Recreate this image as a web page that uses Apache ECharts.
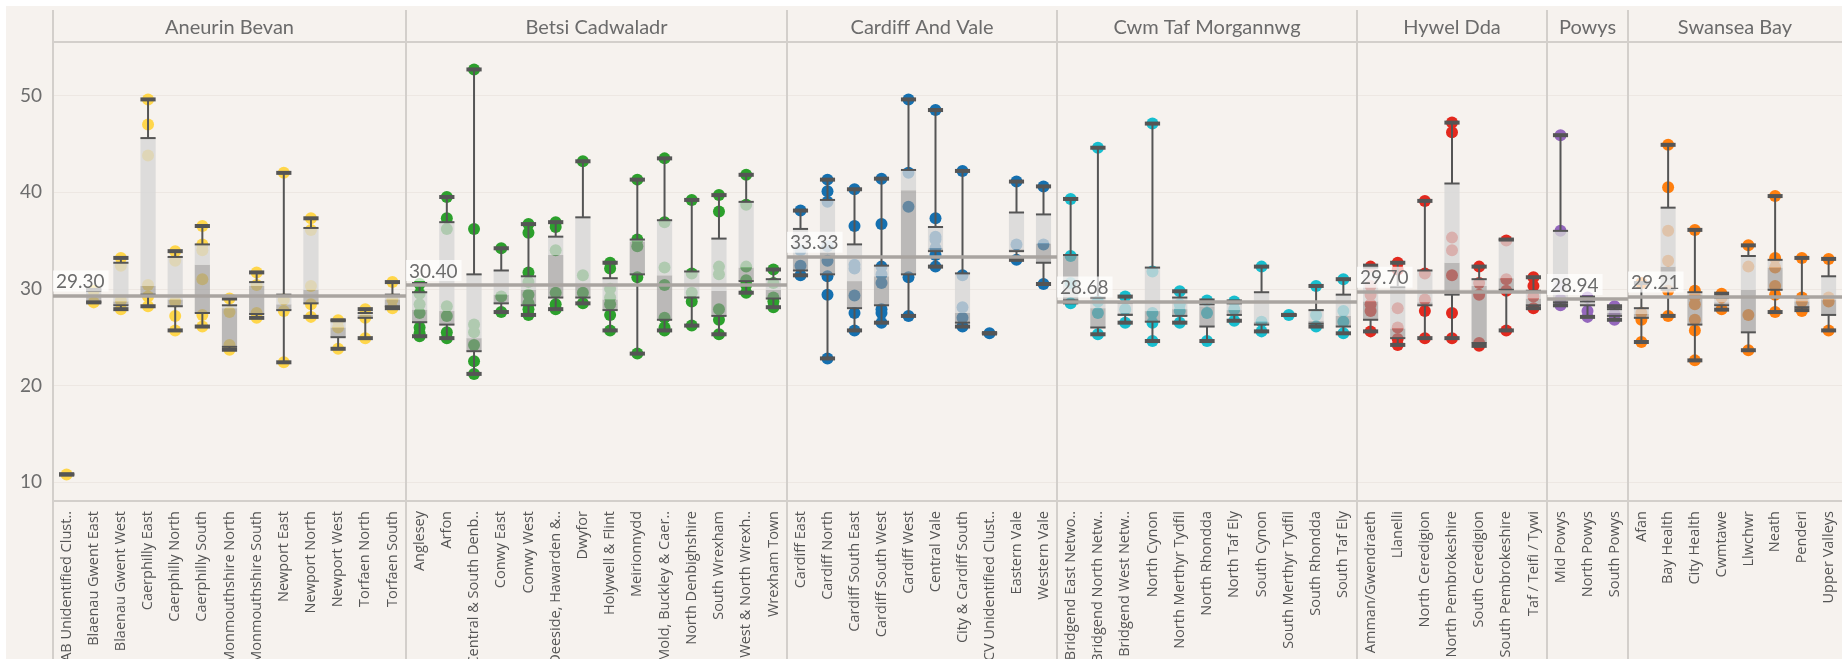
<!DOCTYPE html>
<html>
<head>
<meta charset="utf-8">
<script src="https://cdn.jsdelivr.net/npm/echarts@6/dist/echarts.min.js"></script>
<style>
  html, body { margin: 0; padding: 0; background: #fff; }
  #main { width: 1842px; height: 659px; }
</style>
</head>
<body>
<div id="main"></div>
<script>
// 各卫生局面板
const panelNames = ["Aneurin Bevan", "Betsi Cadwaladr", "Cardiff And Vale", "Cwm Taf Morgannwg", "Hywel Dda", "Powys", "Swansea Bay"];
const panelRefs = [29.30, 30.40, 33.33, 28.68, 29.70, 28.94, 29.21];
const yTicks = [10, 20, 30, 40, 50];

// box = [low, q1, median, q3, high]
const abCats = ["AB Unidentified Clust..", "Blaenau Gwent East", "Blaenau Gwent West", "Caerphilly East", "Caerphilly North", "Caerphilly South", "Monmouthshire North", "Monmouthshire South", "Newport East", "Newport North", "Newport West", "Torfaen North", "Torfaen South"];
const abDots = [[10.8], [29.8, 28.6], [33.2, 32.4, 28.8, 27.9], [49.6, 47.0, 43.8, 30.4, 29.2, 28.2], [33.9, 32.9, 28.7, 27.2, 25.7], [36.5, 34.6, 34.0, 31.0, 27.3, 26.1], [29.0, 27.6, 24.2, 23.7], [31.7, 30.4, 27.5, 27.0], [42.0, 28.9, 27.7, 22.4], [37.3, 36.1, 30.3, 28.4, 27.1], [26.75, 26.0, 23.8], [27.9, 27.0, 24.9], [30.7, 28.9, 28.0]];
const abBox = [[10.8, 10.8, 10.8, 10.8, 10.8], [28.6, 28.6, 29.2, 29.9, 29.9], [27.9, 28.3, 28.7, 32.7, 33.2], [28.2, 29.4, 30.3, 45.6, 49.6], [25.7, 28.2, 28.9, 33.3, 33.9], [26.1, 27.5, 32.5, 34.6, 36.5], [23.7, 24.0, 28.0, 28.3, 29.0], [27.0, 27.4, 30.3, 30.7, 31.7], [22.4, 27.8, 28.4, 29.4, 42.0], [27.1, 28.5, 29.9, 36.3, 37.3], [23.8, 25.0, 26.0, 26.75, 26.75], [24.9, 27.0, 27.3, 27.5, 27.9], [28.0, 28.2, 28.9, 29.4, 30.7]];

const bcCats = ["Anglesey", "Arfon", "Central & South Denb..", "Conwy East", "Conwy West", "Deeside, Hawarden &..", "Dwyfor", "Holywell & Flint", "Meirionnydd", "Mold, Buckley & Caer..", "North Denbighshire", "South Wrexham", "West & North Wrexh..", "Wrexham Town"];
const bcDots = [[30.5, 29.5, 28.4, 27.5, 26.0, 25.4, 25.1], [39.5, 37.3, 36.2, 28.2, 27.2, 25.5, 24.9], [52.7, 36.2, 26.3, 25.5, 24.2, 22.5, 21.2], [34.2, 29.2, 27.6], [36.7, 35.8, 31.7, 30.7, 29.4, 28.5, 27.9, 27.3], [36.9, 36.4, 34.0, 29.6, 28.4, 27.9], [43.2, 31.4, 29.6, 28.5], [32.7, 32.1, 30.0, 29.1, 28.4, 27.3, 25.7], [41.3, 35.1, 34.4, 31.2, 23.3], [43.5, 36.9, 32.2, 30.4, 27.0, 26.0, 25.7], [39.2, 31.6, 29.6, 28.7, 26.2], [39.7, 38.0, 32.3, 31.5, 27.9, 26.8, 25.3], [41.8, 38.7, 32.3, 30.9, 30.4, 29.6], [32.0, 30.6, 29.1, 28.7, 28.1]];
const bcBox = [[25.1, 26.55, 27.85, 29.65, 30.5], [24.9, 26.3, 27.7, 36.9, 39.5], [21.2, 23.55, 24.9, 31.5, 52.7], [27.6, 28.5, 29.4, 31.9, 34.2], [27.3, 28.3, 29.9, 31.3, 36.7], [27.9, 29.1, 33.5, 35.4, 36.9], [28.5, 29.1, 30.3, 37.4, 43.2], [25.7, 27.8, 28.9, 31.1, 32.7], [23.3, 31.5, 34.9, 35.1, 41.3], [25.7, 26.8, 31.4, 37.1, 43.5], [26.2, 29.1, 29.2, 31.8, 39.2], [25.3, 27.2, 29.8, 35.2, 39.7], [29.6, 30.8, 32.2, 39.0, 41.8], [28.1, 29.0, 29.9, 31.0, 32.0]];

const cvCats = ["Cardiff East", "Cardiff North", "Cardiff South East", "Cardiff South West", "Cardiff West", "Central Vale", "City & Cardiff South", "CV Unidentified Clust..", "Eastern Vale", "Western Vale"];
const cvDots = [[38.1, 34.0, 32.4, 31.4], [41.3, 40.1, 39.0, 34.4, 32.9, 31.3, 29.4, 22.8], [40.3, 36.5, 32.5, 32.1, 29.3, 27.5, 25.7], [41.4, 36.7, 32.3, 31.5, 30.6, 27.9, 27.5, 26.5], [49.6, 42.0, 38.5, 31.2, 27.2], [48.5, 37.3, 35.4, 35.1, 34.2, 33.5, 32.3], [42.2, 31.4, 28.1, 27.0, 26.1], [25.4], [41.1, 34.6, 33.0], [40.6, 34.6, 30.5]];
const cvBox = [[31.4, 31.9, 33.2, 36.2, 38.1], [22.8, 31.5, 34.4, 39.2, 41.3], [25.7, 28.0, 30.8, 34.6, 40.3], [26.5, 28.3, 31.3, 32.4, 41.4], [27.2, 31.5, 40.2, 42.3, 49.6], [32.3, 33.9, 34.2, 36.4, 48.5], [26.1, 26.5, 27.5, 31.6, 42.2], [25.4, 25.4, 25.4, 25.4, 25.4], [33.0, 33.9, 34.1, 37.9, 41.1], [30.5, 32.7, 34.7, 37.7, 40.6]];

const ctCats = ["Bridgend East Netwo..", "Bridgend North Netw..", "Bridgend West Netw..", "North Cynon", "North Merthyr Tydfil", "North Rhondda", "North Taf Ely", "South Cynon", "South Merthyr Tydfil", "South Rhondda", "South Taf Ely"];
const ctDots = [[39.3, 33.4, 30.6, 28.5], [44.6, 28.7, 27.5, 25.3], [29.2, 27.9, 26.5], [47.1, 31.8, 27.5, 26.5, 24.6], [29.75, 28.4, 27.7, 26.5], [28.8, 27.5, 24.6], [28.7, 27.9, 26.7], [32.3, 26.6, 25.6], [27.3], [30.3, 27.3, 26.1], [31.0, 27.7, 26.6, 25.4]];
const ctBox = [[28.6, 28.8, 33.4, 33.5, 39.3], [25.3, 26.0, 28.0, 29.1, 44.6], [26.5, 27.3, 27.5, 28.6, 29.2], [24.6, 26.6, 27.7, 32.2, 47.1], [26.5, 27.2, 27.9, 29.1, 29.75], [24.6, 26.1, 28.2, 28.4, 28.8], [26.7, 27.3, 27.8, 28.5, 28.7], [25.6, 26.3, 26.6, 29.65, 32.3], [27.3, 27.3, 27.3, 27.3, 27.3], [26.1, 26.4, 26.7, 27.8, 30.3], [25.4, 26.1, 27.2, 29.4, 31.0]];

const hdCats = ["Amman/Gwendraeth", "Llanelli", "North Ceredigion", "North Pembrokeshire", "South Ceredigion", "South Pembrokeshire", "Taf / Teifi / Tywi"];
const hdDots = [[32.3, 30.3, 29.4, 28.4, 27.7, 25.6], [32.7, 32.0, 28.0, 26.0, 24.8, 24.2], [39.1, 31.6, 28.9, 27.7, 24.9], [47.2, 46.2, 35.3, 34.0, 31.4, 27.5, 24.9], [32.3, 30.6, 29.4, 24.4, 24.1], [35.0, 31.0, 29.8, 25.7], [31.2, 30.3, 29.2, 28.0]];
const hdBox = [[25.6, 26.8, 28.7, 32.2, 32.4], [24.2, 24.9, 25.9, 30.2, 32.7], [24.9, 28.3, 28.6, 31.9, 39.1], [24.9, 29.4, 32.7, 40.9, 47.2], [24.1, 24.4, 30.3, 31.0, 32.3], [25.7, 29.9, 31.1, 35.1, 35.1], [28.0, 28.3, 29.0, 29.8, 31.2]];

const pwCats = ["Mid Powys", "North Powys", "South Powys"];
const pwDots = [[45.9, 36.0, 30.3, 28.9, 28.3], [29.1, 27.7, 27.1], [28.2, 27.4, 26.8]];
const pwBox = [[28.3, 28.6, 29.0, 36.0, 45.9], [27.1, 28.3, 28.5, 28.7, 29.1], [26.8, 27.2, 27.5, 27.9, 28.2]];

const sbCats = ["Afan", "Bay Health", "City Health", "Cwmtawe", "Llwchwr", "Neath", "Penderi", "Upper Valleys"];
const sbDots = [[30.6, 27.5, 26.8, 24.5], [44.9, 40.5, 36.0, 32.9, 29.8, 27.2], [36.1, 29.8, 29.2, 28.4, 26.8, 25.7, 22.6], [29.5, 29.1, 27.9], [34.5, 32.3, 27.3, 23.65], [39.6, 33.2, 32.2, 30.3, 29.4, 27.6], [33.2, 29.1, 28.7, 27.7], [33.1, 29.1, 28.7, 25.7]];
const sbBox = [[24.5, 27.0, 27.4, 28.0, 30.6], [27.2, 29.9, 32.3, 38.4, 44.9], [22.6, 26.3, 29.4, 29.65, 36.1], [27.85, 28.3, 28.6, 29.1, 29.5], [23.65, 25.5, 29.9, 33.4, 34.5], [27.6, 29.9, 32.2, 33.0, 39.6], [27.8, 28.1, 28.7, 29.1, 33.2], [25.7, 27.3, 28.9, 31.3, 33.1]];

const panelCats = [abCats, bcCats, cvCats, ctCats, hdCats, pwCats, sbCats];
const panelDots = [abDots, bcDots, cvDots, ctDots, hdDots, pwDots, sbDots];
const panelBoxes = [abBox, bcBox, cvBox, ctBox, hdBox, pwBox, sbBox];

// 布局与样式
const panelColors = ["#ffd64a", "#2ca02c", "#1570b0", "#17becf", "#e3291e", "#9467bd", "#ff7f0e"];
const panelEdges = [53, 406, 787, 1057, 1357, 1547, 1628, 1842];
const plotTop = 42, plotBottom = 501;
const yMin = 8.05, yMax = 55.54;
const bg = "#f6f2ee";
const ruleColor = "#d3cfcb";
const ink = "#555";

const chart = echarts.init(document.getElementById("main"));

// 箱体 + 须线
const renderBox = (params, api) => {
  const idx = api.value(0);
  const low = api.value(1), q1 = api.value(2), med = api.value(3), q3 = api.value(4), high = api.value(5);
  const w = api.size([1, 0])[0] * 0.56;
  const cx = api.coord([idx, med])[0];
  const y = v => api.coord([idx, v])[1];
  const x0 = cx - w / 2, x1 = cx + w / 2;
  const hline = (v, lw) => ({ type: "line", shape: { x1: x0, y1: y(v), x2: x1, y2: y(v) }, style: { stroke: ink, lineWidth: lw } });
  return {
    type: "group",
    children: [
      { type: "rect", shape: { x: x0, y: y(med), width: w, height: y(q1) - y(med) }, style: { fill: "rgba(150,150,150,0.62)" } },
      { type: "rect", shape: { x: x0, y: y(q3), width: w, height: y(med) - y(q3) }, style: { fill: "rgba(214,214,214,0.78)" } },
      { type: "line", shape: { x1: cx, y1: y(q3), x2: cx, y2: y(high) }, style: { stroke: ink, lineWidth: 2 } },
      { type: "line", shape: { x1: cx, y1: y(q1), x2: cx, y2: y(low) }, style: { stroke: ink, lineWidth: 2 } },
      hline(q3, 2),
      hline(q1, 2),
      hline(high, 4),
      hline(low, 4)
    ]
  };
};

const grids = [], xAxes = [], yAxes = [], series = [];
panelNames.forEach((name, i) => {
  grids.push({
    left: panelEdges[i], width: panelEdges[i + 1] - panelEdges[i], top: plotTop, height: plotBottom - plotTop,
    containLabel: false, outerBoundsMode: "none"
  });
  xAxes.push({
    gridIndex: i, type: "category", data: panelCats[i],
    axisLine: { show: false }, axisTick: { show: false }, splitLine: { show: false },
    axisLabel: { interval: 0, rotate: 90, margin: 10, fontFamily: "Open Sans", fontSize: 14.5, color: ink }
  });
  xAxes.push({
    gridIndex: i, type: "category", position: "top", data: [name],
    axisLine: { show: false }, axisTick: { show: false },
    axisLabel: { margin: 4, fontFamily: "Lato", fontSize: 20, color: "#6b6b6b" }
  });
  yAxes.push({
    gridIndex: i, type: "value", min: yMin, max: yMax,
    axisLine: { show: false }, axisTick: { show: false },
    splitLine: { lineStyle: { color: "#ede7e2", width: 1 } },
    axisLabel: {
      show: i === 0, showMinLabel: false, showMaxLabel: false, margin: 11,
      fontFamily: "Lato", fontSize: 19, color: "#6d6d6d",
      formatter: v => (yTicks.includes(Math.round(v)) && Math.abs(v - Math.round(v)) < 1e-6 ? String(Math.round(v)) : "")
    }
  });

  const dots = [];
  panelDots[i].forEach((vals, c) => vals.forEach(v => dots.push([c, v])));
  series.push({
    type: "scatter", xAxisIndex: i * 2, yAxisIndex: i, z: 2,
    symbolSize: 12, itemStyle: { color: panelColors[i], opacity: 1 },
    data: dots,
    markLine: {
      silent: true, symbol: "none", z: 5,
      lineStyle: { color: "#a9a4a0", width: 3.5, type: "solid" },
      label: {
        position: "insideStartTop", distance: [0, 4],
        formatter: panelRefs[i].toFixed(2),
        fontFamily: "Lato", fontSize: 19, color: "#6b6b6b",
        backgroundColor: "rgba(255,255,255,0.72)", padding: [2, 4, 0, 3]
      },
      data: [{ yAxis: panelRefs[i] }]
    }
  });
  series.push({
    type: "custom", xAxisIndex: i * 2, yAxisIndex: i, z: 3,
    renderItem: renderBox,
    encode: { x: 0, y: [1, 2, 3, 4, 5] },
    data: panelBoxes[i].map((b, c) => [c, ...b])
  });
});

// 面板分隔线
const frame = [];
panelEdges.slice(0, -1).forEach(x => {
  frame.push({ type: "line", shape: { x1: x, y1: 10, x2: x, y2: 659 }, style: { stroke: ruleColor, lineWidth: 2 } });
});
[plotTop, plotBottom].forEach(yy => {
  frame.push({ type: "line", shape: { x1: panelEdges[0], y1: yy, x2: 1842, y2: yy }, style: { stroke: ruleColor, lineWidth: 2 } });
});
frame.push({ type: "rect", shape: { x: 0, y: 0, width: 1842, height: 6 }, style: { fill: "#fff" } });
frame.push({ type: "rect", shape: { x: 0, y: 0, width: 6, height: 659 }, style: { fill: "#fff" } });

chart.setOption({
  backgroundColor: bg,
  animation: false,
  grid: grids,
  xAxis: xAxes,
  yAxis: yAxes,
  series: series,
  graphic: frame.map(g => Object.assign({ silent: true, z: 1 }, g))
});
</script>
</body>
</html>
